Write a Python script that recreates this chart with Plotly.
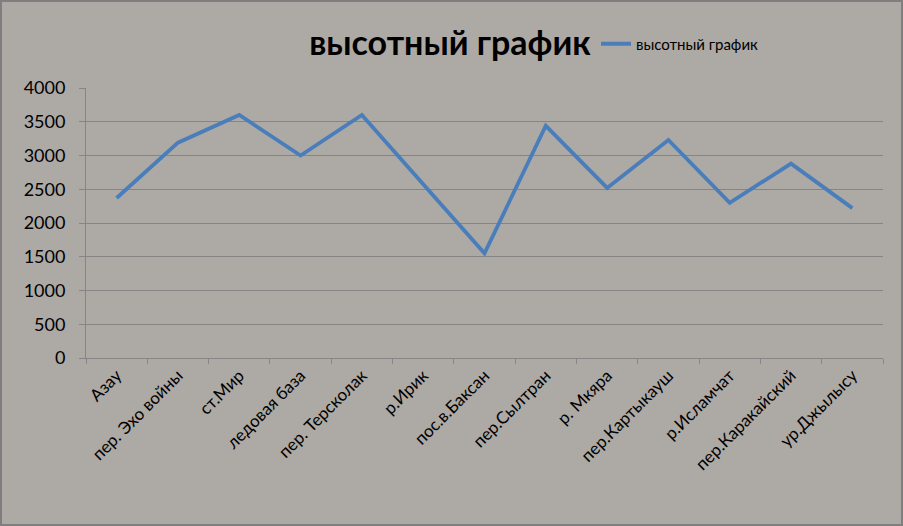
import plotly.graph_objects as go

categories = ["Азау", "пер. Эхо войны", "ст.Мир", "ледовая база", "пер. Терсколак",
              "р.Ирик", "пос.в.Баксан", "пер.Сылтран", "р. Мкяра", "пер.Картыкауш",
              "р.Исламчат", "пер.Каракайский", "ур.Джылысу"]
heights = [2370, 3190, 3600, 3000, 3600, 2575, 1550, 3440, 2520, 3230, 2300, 2880, 2220]
y_ticks = [0, 500, 1000, 1500, 2000, 2500, 3000, 3500, 4000]
series_name = "высотный график"
title_text = "высотный график"

W, H = 903, 526
ML, MR, MT, MB = 86, 20, 88, 168
pw = W - ML - MR
ph = H - MT - MB

FONT = "Lato, 'Open Sans', sans-serif"
BG = "#ADA9A5"
GRID = "#858585"

fig = go.Figure()
fig.add_trace(go.Scatter(
    x=categories, y=heights, mode="lines", name=series_name,
    line=dict(color="#4A7EBB", width=3.8),
))

fig.update_layout(
    width=W, height=H,
    margin=dict(l=ML, r=MR, t=MT, b=MB, autoexpand=False),
    paper_bgcolor=BG, plot_bgcolor=BG,
    font=dict(family=FONT, color="black"),
    title=dict(text="<b>" + title_text + "</b>", x=450 / W, xanchor="center",
               y=1 - 43 / H, yanchor="middle", xref="container",
               font=dict(size=34, family=FONT)),
    showlegend=True,
    legend=dict(x=(596 - ML) / pw, xref="paper", xanchor="left",
                y=1 + (MT - 44) / ph, yref="paper", yanchor="middle",
                bgcolor="rgba(0,0,0,0)", font=dict(size=15),
                itemwidth=30),
    xaxis=dict(type="category", tickangle=-45, tickfont=dict(size=17),
               showline=True, linecolor=GRID, linewidth=1,
               ticks="outside", tickson="boundaries", ticklen=5, tickcolor=GRID,
               showgrid=False, range=[-0.5, len(categories) - 0.5]),
    yaxis=dict(range=[0, 4000], tickvals=y_ticks, tickfont=dict(size=18),
               showline=True, linecolor=GRID, linewidth=1,
               ticks="outside", ticklen=6, tickcolor=GRID,
               showgrid=True, gridcolor=GRID, gridwidth=1,
               zeroline=False, ticklabelstandoff=10),
    shapes=[dict(type="rect", xref="paper", yref="paper",
                 x0=-(ML - 1) / pw, x1=1 + (MR - 1) / pw,
                 y0=-(MB - 1) / ph, y1=1 + (MT - 1) / ph,
                 line=dict(color="#7F7F7F", width=2), layer="below")],
)

fig.write_html("out.html", config={"displayModeBar": False},
               post_script="document.body.style.margin='0';document.body.style.overflow='hidden';")
